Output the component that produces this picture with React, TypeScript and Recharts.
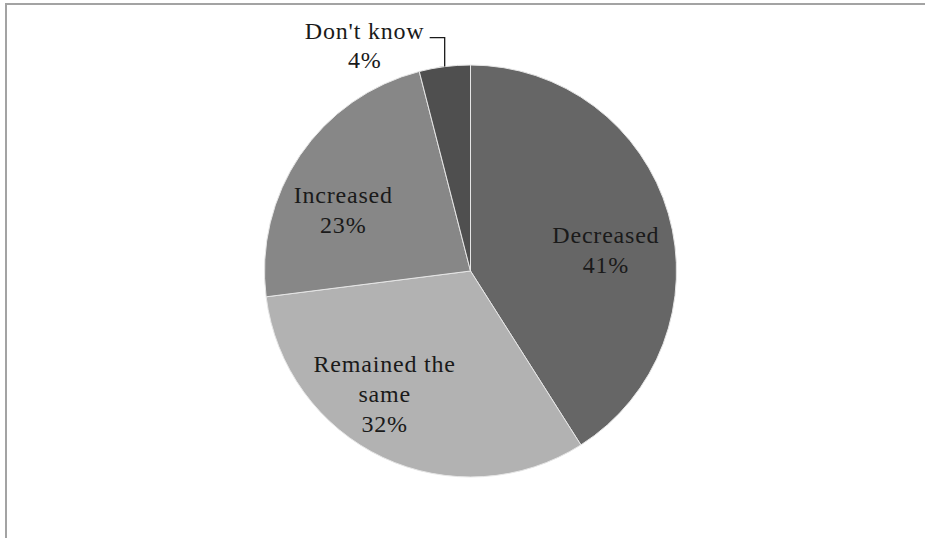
import React from 'react';
import { PieChart, Pie, Cell } from 'recharts';

const categories = ['Decreased', 'Remained the same', 'Increased', "Don't know"];
const shares = [41, 32, 23, 4];
const labelLines = [['Decreased'], ['Remained the', 'same'], ['Increased'], ["Don't know"]];
const sliceColors = ['#666666', '#b2b2b2', '#878787', '#4f4f4f'];

// where each label block sits: angle offset from the slice middle, radius as share of outer radius
const labelPlacement = [
  { da: -7.4, r: 0.665 },
  { da: -9.6, r: 0.73 },
  { da: 8.6, r: 0.685 },
];

const data = categories.map((name, i) => ({ name, value: shares[i] }));

const RADIAN = Math.PI / 180;
const FONT = 'Liberation Serif, Times New Roman, serif';
const LINE_H = 30;

const textProps = {
  textAnchor: 'middle' as const,
  fontFamily: FONT,
  fontSize: 24,
  letterSpacing: 0.8,
  fill: '#1a1a1a',
};

const renderLabel = (props: any) => {
  const { cx, cy, midAngle, outerRadius, index } = props;
  const lines = [...labelLines[index], `${shares[index]}%`];

  if (index === 3) {
    // outside label with an elbow leader line
    const ex = cx + outerRadius * Math.cos(-midAngle * RADIAN);
    const ey = cy + outerRadius * Math.sin(-midAngle * RADIAN);
    const ky = ey - 29;
    const tx = ex - 80;
    return (
      <g>
        <polyline
          points={`${ex},${ey} ${ex},${ky} ${ex - 15},${ky}`}
          fill="none"
          stroke="#1a1a1a"
          strokeWidth={1.3}
        />
        {lines.map((t, i) => (
          <text key={i} x={tx} y={ey - 28 + i * 29} {...textProps}>
            {t}
          </text>
        ))}
      </g>
    );
  }

  const p = labelPlacement[index];
  const a = midAngle + p.da;
  const x = cx + outerRadius * p.r * Math.cos(-a * RADIAN);
  const y = cy + outerRadius * p.r * Math.sin(-a * RADIAN);
  const first = y - ((lines.length - 1) * LINE_H) / 2 + 8;

  return (
    <g>
      {lines.map((t, i) => (
        <text key={i} x={x} y={first + i * LINE_H} {...textProps}>
          {t}
        </text>
      ))}
    </g>
  );
};

const App = () => {
  return (
    <div style={{ position: 'fixed', left: 0, top: 0, width: 925, height: 538, background: '#fff', overflow: 'hidden' }}>
      <div
        style={{
          position: 'absolute',
          left: 5,
          top: 3,
          width: 925,
          height: 540,
          borderTop: '2px solid #a3a3a3',
          borderLeft: '2px solid #a3a3a3',
        }}
      />
      <div style={{ position: 'absolute', left: 0, top: 0 }}>
        <PieChart width={925} height={538} margin={{ top: 0, right: 0, bottom: 0, left: 0 }}>
          <Pie
            data={data}
            dataKey="value"
            nameKey="name"
            cx={470.5}
            cy={271}
            outerRadius={206}
            startAngle={90}
            endAngle={-270}
            stroke="#e6e6e6"
            strokeWidth={1}
            label={renderLabel}
            labelLine={false}
            isAnimationActive={false}
          >
            {data.map((d, i) => (
              <Cell key={d.name} fill={sliceColors[i]} />
            ))}
          </Pie>
        </PieChart>
      </div>
    </div>
  );
};

export default App;
